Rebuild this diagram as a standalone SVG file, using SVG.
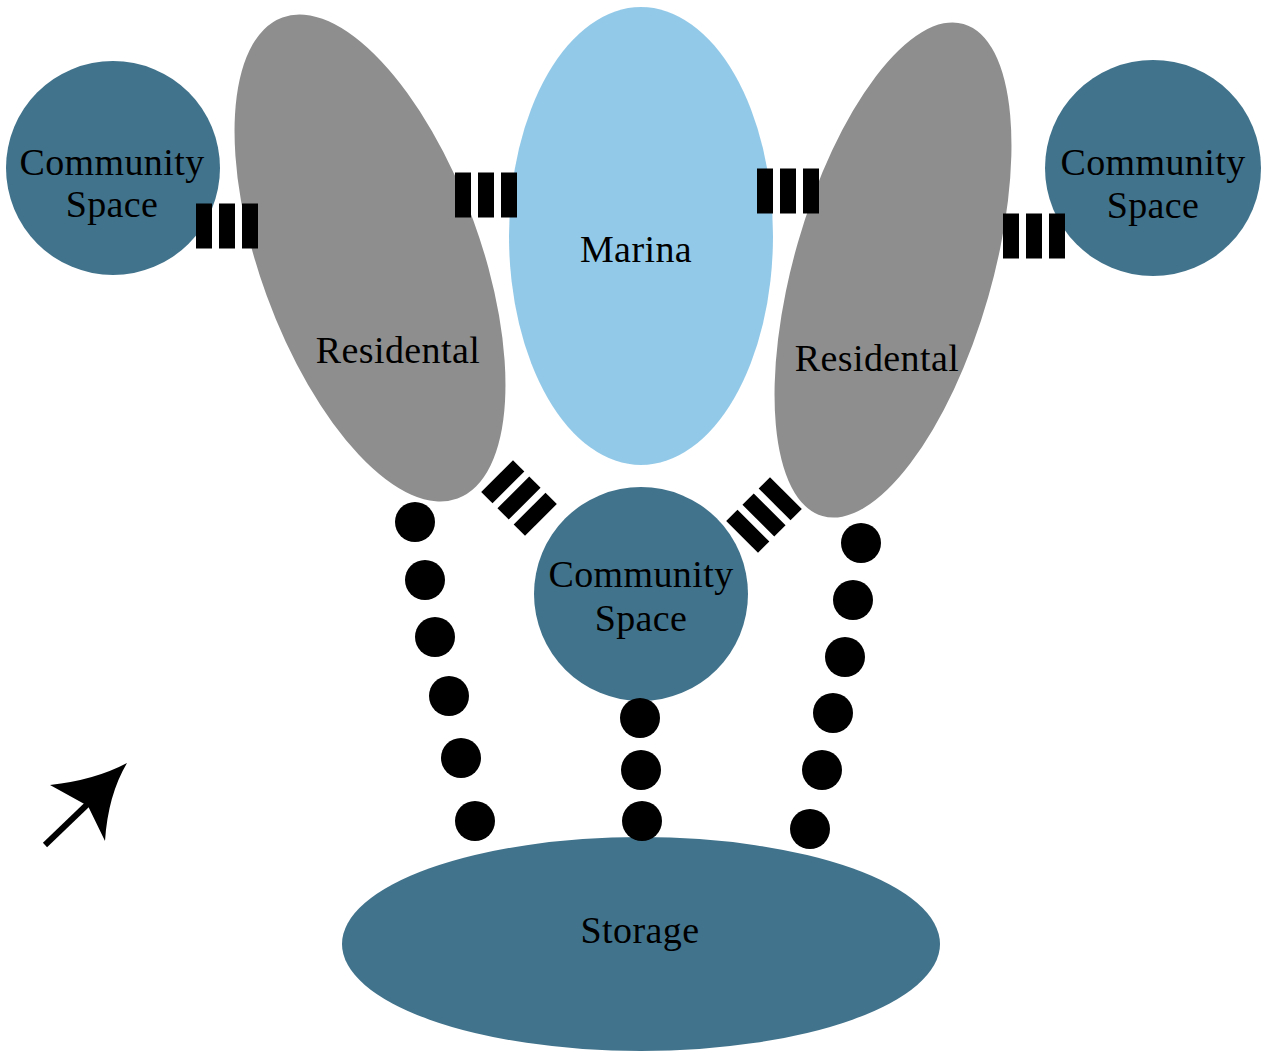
<svg xmlns="http://www.w3.org/2000/svg" width="1267" height="1053" viewBox="0 0 1267 1053">
<style>
.cs{fill:#41738c}
.res{fill:#8e8e8e}
.mar{fill:#93c9e8}
.bar{fill:#000}
.dot{fill:#000}
text{font-family:"Liberation Serif","Times New Roman",serif;font-size:38px;fill:#000;text-anchor:middle;letter-spacing:0.4px}
</style>
<defs>
<g id="bars"><rect x="-31" y="-22.5" width="16" height="45"/><rect x="-8" y="-22.5" width="16" height="45"/><rect x="15" y="-22.5" width="16" height="45"/></g>
</defs>
<rect width="1267" height="1053" fill="#fff"/>
<g id="residential-left"><ellipse class="res" cx="370" cy="258" rx="110" ry="256" transform="rotate(-20 370 258)"/><text x="398" y="363">Residental</text></g>
<g id="marina"><ellipse class="mar" cx="641" cy="236" rx="132" ry="229"/><text x="636" y="262">Marina</text></g>
<g id="residential-right"><ellipse class="res" cx="893" cy="270" rx="99" ry="256" transform="rotate(16 893 270)"/><text x="877" y="371">Residental</text></g>
<g id="community-left"><circle class="cs" cx="113" cy="168" r="107"/><text x="112" y="175">Community</text><text x="112" y="217">Space</text></g>
<g id="community-right"><circle class="cs" cx="1153" cy="168" r="108"/><text x="1153" y="175">Community</text><text x="1153" y="218">Space</text></g>
<g id="community-center"><circle class="cs" cx="641" cy="594" r="107"/><text x="641" y="587">Community</text><text x="641" y="631">Space</text></g>
<g id="storage"><ellipse class="cs" cx="641" cy="944" rx="299" ry="107"/><text x="640" y="943">Storage</text></g>
<g id="connectors">
<use href="#bars" x="227" y="226" class="bar"/>
<use href="#bars" x="486" y="195" class="bar"/>
<use href="#bars" x="788" y="191" class="bar"/>
<use href="#bars" x="1034" y="236" class="bar"/>
<use href="#bars" transform="translate(519 498) rotate(45)"/>
<use href="#bars" transform="translate(764 515) rotate(-45)"/>
<g class="dot">
<circle cx="415" cy="522" r="20"/><circle cx="425" cy="580" r="20"/><circle cx="435" cy="637" r="20"/><circle cx="449" cy="696" r="20"/><circle cx="461" cy="758" r="20"/><circle cx="475" cy="821" r="20"/>
<circle cx="640" cy="718" r="20"/><circle cx="641" cy="770" r="20"/><circle cx="642" cy="821" r="20"/>
<circle cx="861" cy="543" r="20"/><circle cx="853" cy="600" r="20"/><circle cx="845" cy="657" r="20"/><circle cx="833" cy="713" r="20"/><circle cx="822" cy="770" r="20"/><circle cx="810" cy="829" r="20"/>
</g>
</g>
<g id="north-arrow">
<line x1="45" y1="845" x2="95" y2="797" stroke="#000" stroke-width="6"/>
<path d="M127,763 Q95,780 50,785 L88,806 L105,841 Q108,795 127,763 Z" fill="#000"/>
</g>
</svg>
